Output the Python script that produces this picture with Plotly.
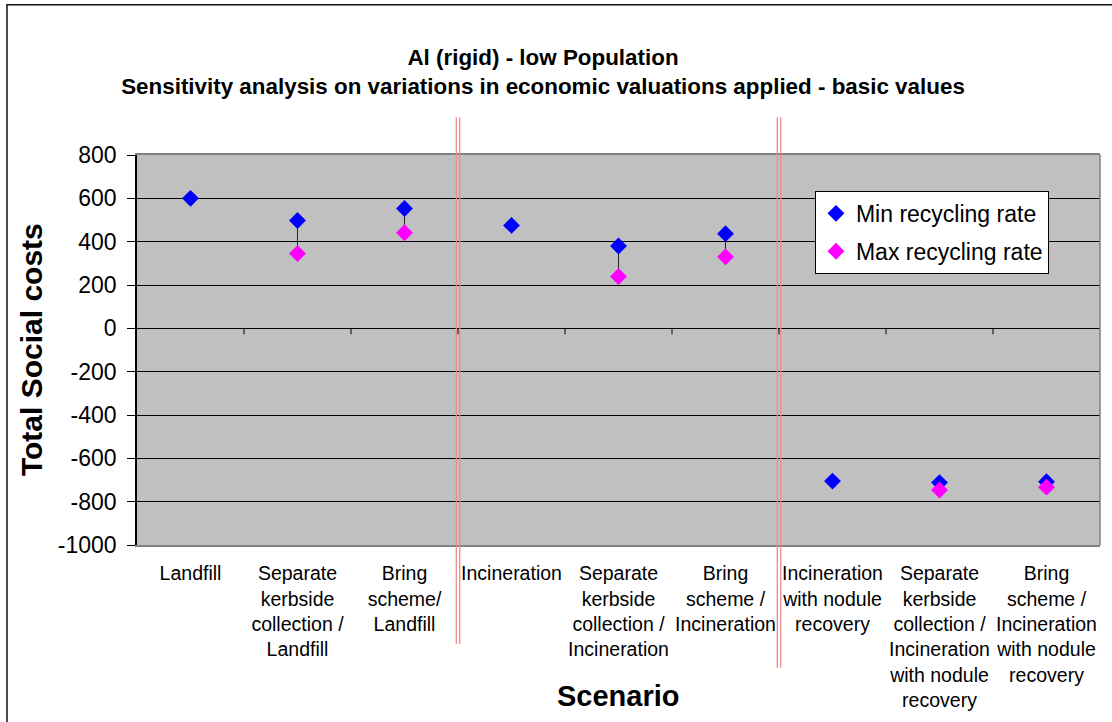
import plotly.graph_objects as go

categories = [
    "Landfill",
    "Separate<br>kerbside<br>collection /<br>Landfill",
    "Bring<br>scheme/<br>Landfill",
    "Incineration",
    "Separate<br>kerbside<br>collection /<br>Incineration",
    "Bring<br>scheme /<br>Incineration",
    "Incineration<br>with nodule<br>recovery",
    "Separate<br>kerbside<br>collection /<br>Incineration<br>with nodule<br>recovery",
    "Bring<br>scheme /<br>Incineration<br>with nodule<br>recovery",
]
min_rate = [600, 498, 553, 475, 380, 437, -705, -712, -708]
max_rate = [None, 345, 441, None, 239, 330, None, -746, -733]
y_ticks = [800, 600, 400, 200, 0, -200, -400, -600, -800, -1000]
group_breaks = [2.5, 5.5]

FONT = "Liberation Sans, Arial, sans-serif"

# connectors between min and max
cx, cy = [], []
for c, a, b in zip(categories, min_rate, max_rate):
    if b is not None:
        cx += [c, c, None]
        cy += [a, b, None]

fig = go.Figure()
fig.add_trace(go.Scatter(x=cx, y=cy, mode="lines", line=dict(color="#222222", width=1),
                         showlegend=False, hoverinfo="skip"))
fig.add_trace(go.Scatter(x=categories, y=min_rate, mode="markers", name="Min recycling rate",
                         marker=dict(symbol="diamond", size=13, color="#0000FF", line=dict(width=0)),
                         legendgroup="a"))
fig.add_trace(go.Scatter(x=categories, y=max_rate, mode="markers", name="Max recycling rate",
                         marker=dict(symbol="diamond", size=13, color="#FF00FF", line=dict(width=0)),
                         legendgroup="b"))

shapes = []
# outer frame (left and top visible)
shapes.append(dict(type="rect", xref="paper", yref="paper", x0=-0.135, x1=1.2, y0=-0.6, y1=1.385,
                   line=dict(color="#111111", width=1.5), fillcolor="rgba(0,0,0,0)", layer="above"))
# right border of plot area
shapes.append(dict(type="line", xref="paper", yref="paper", x0=1, x1=1, y0=0, y1=1,
                   line=dict(color="#808080", width=1.5)))
# tick marks on the zero line at category boundaries
for k in range(len(categories) - 1):
    shapes.append(dict(type="line", xref="x", yref="y", x0=k + 0.5, x1=k + 0.5,
                       ysizemode="pixel", yanchor=0, y0=0, y1=-6,
                       line=dict(color="black", width=1)))
# red double separators
for b in group_breaks:
    bottom = -0.254 if b < 3 else -0.315
    for off in (-1.7, 1.7):
        shapes.append(dict(type="line", xref="x", yref="paper", xsizemode="pixel", xanchor=b,
                           x0=off, x1=off, y0=bottom, y1=1.097,
                           line=dict(color="#F28A8A", width=1.3)))

annotations = [
    dict(text="<b>Total Social costs</b>", xref="paper", yref="paper", x=-0.110, y=0.5,
         textangle=-90, showarrow=False, xanchor="center", yanchor="middle",
         font=dict(family=FONT, size=30, color="black")),
    dict(text="<b>Scenario</b>", xref="paper", yref="paper", x=0.5, y=-0.387,
         showarrow=False, xanchor="center", yanchor="middle",
         font=dict(family=FONT, size=29, color="black")),
]

fig.update_layout(
    width=1112, height=722,
    margin=dict(l=137, r=12, t=155, b=177),
    paper_bgcolor="white", plot_bgcolor="#C0C0C0",
    font=dict(family=FONT, color="black"),
    title=dict(text="<b>Al (rigid) - low Population<br>Sensitivity analysis on variations in economic valuations applied - basic values</b>",
               x=543 / 1112, xref="container", xanchor="center",
               y=1 - 65 / 722, yref="container", yanchor="top",
               font=dict(family=FONT, size=22.4, color="black")),
    showlegend=True,
    legend=dict(x=0.704, y=0.908, xanchor="left", yanchor="top",
                bgcolor="white", bordercolor="black", borderwidth=1,
                font=dict(family=FONT, size=23, color="black"),
                traceorder="grouped", tracegroupgap=5, itemwidth=30),
    shapes=shapes,
    annotations=annotations,
)
fig.update_xaxes(type="category", categoryorder="array", categoryarray=categories,
                 range=[-0.5, len(categories) - 0.5],
                 showgrid=False, zeroline=False,
                 showline=True, linecolor="#808080", linewidth=1.5, mirror=True,
                 ticks="", tickfont=dict(family=FONT, size=19.5, color="black"),
                 ticklabelstandoff=10, tickangle=0)
fig.update_yaxes(range=[-1000, 800], tickvals=y_ticks, ticktext=[str(v) for v in y_ticks],
                 showgrid=True, gridcolor="black", gridwidth=1,
                 zeroline=True, zerolinecolor="black", zerolinewidth=1,
                 showline=True, linecolor="black", linewidth=1.5,
                 ticks="outside", ticklen=8, tickcolor="black",
                 tickfont=dict(family=FONT, size=23, color="black"), ticklabelstandoff=6)

fig.write_html("out.html")
